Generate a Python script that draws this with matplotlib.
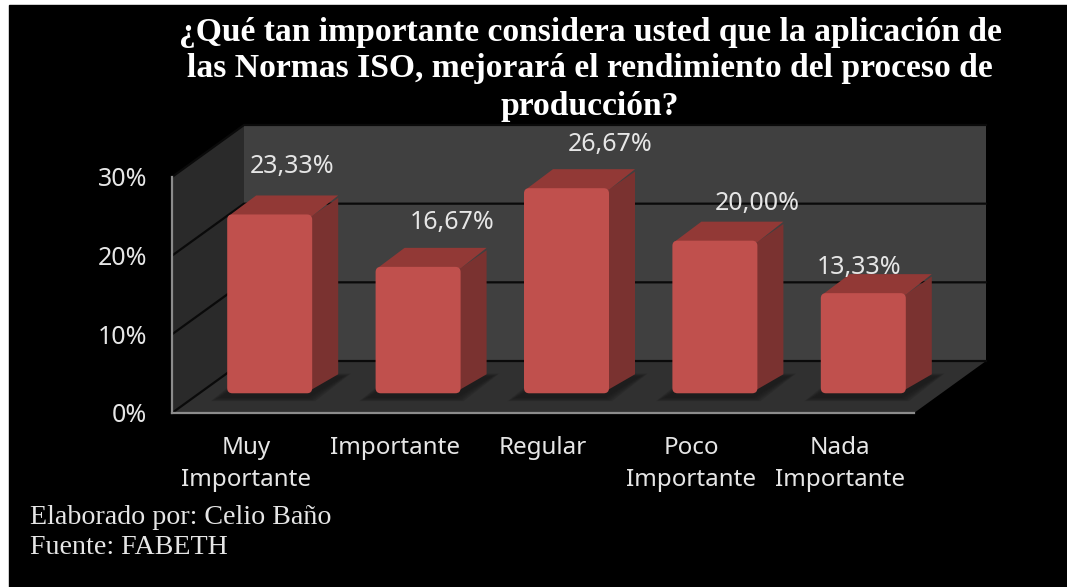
import numpy as np
import matplotlib
matplotlib.use("Agg")
import matplotlib.pyplot as plt
from matplotlib.patches import FancyBboxPatch, Polygon, Rectangle

categorias = ["Muy\nImportante", "Importante", "Regular", "Poco\nImportante", "Nada\nImportante"]
valores = [23.33, 16.67, 26.67, 20.00, 13.33]
ticks_y = [0, 10, 20, 30]
titulo = "¿Qué tan importante considera usted que la aplicación de\nlas Normas ISO, mejorará el rendimiento del proceso de\nproducción?"
pie = ["Elaborado por: Celio Baño", "Fuente: FABETH"]

W, H = 1067, 587
TEXTO = "#e6e6e6"

# profundidad de la caja 3D, en unidades de los ejes
PX_X = 742 / 5
PX_Y = 236 / 30
PROF_X = 72 / PX_X
PROF_Y = 52 / PX_Y

# barra: ancho, profundidad y desplazamiento sobre el piso
ANCHO = 85 / PX_X
BAR_DX = 26 / PX_X
BAR_DY = 19 / PX_Y
DESP_X = 23.5 / PX_X
DESP_Y = 15 / PX_Y
PISO = 0.6

# desplazamiento de cada etiqueta de valor respecto a la barra
etiqueta_dx = [22, 34, 44, 42, -4]
etiqueta_dy = [48, 44, 44, 37, 26]


def fx(px):
    return px / W


def fy(py):
    return 1 - py / H


fig = plt.figure(figsize=(W / 100, H / 100), dpi=100, facecolor="white")
fig.add_artist(Rectangle((fx(9), 0), 1 - fx(9), fy(5), transform=fig.transFigure, color="black", zorder=-5))

ax = fig.add_axes([fx(172), fy(413), 742 / W, 236 / H])
ax.patch.set_visible(False)
ax.set_xlim(-0.5, 4.5)
ax.set_ylim(0, 30)

x0, x1 = -0.5, 4.5
tope = 30

# paredes y piso
ax.add_patch(Polygon([(x0 + PROF_X, PROF_Y), (x1 + PROF_X, PROF_Y), (x1 + PROF_X, tope + PROF_Y), (x0 + PROF_X, tope + PROF_Y)],
                     color="#404040", clip_on=False, zorder=1, lw=0))
ax.add_patch(Polygon([(x0, 0), (x0 + PROF_X, PROF_Y), (x0 + PROF_X, tope + PROF_Y), (x0, tope)],
                     color="#2a2a2a", clip_on=False, zorder=1, lw=0))
ax.add_patch(Polygon([(x0, 0), (x1, 0), (x1 + PROF_X, PROF_Y), (x0 + PROF_X, PROF_Y)],
                     color="#303030", clip_on=False, zorder=1, lw=0))

# lineas de division
for t in ticks_y:
    ax.plot([x0, x0 + PROF_X, x1 + PROF_X], [t, t + PROF_Y, t + PROF_Y],
            color="#0a0a0a", lw=1.6, clip_on=False, zorder=2, solid_joinstyle="miter")

# barras
for i, v in enumerate(valores):
    izq = i + DESP_X - ANCHO / 2
    der = izq + ANCHO
    base = DESP_Y + PISO

    # sombra sobre el piso, con el borde difuminado
    for paso in np.linspace(0, 1, 5):
        m = paso * 0.05
        ax.add_patch(Polygon([(izq - 0.11 + m, base - 1.0 + paso * 0.4), (der + 0.02 - m, base - 1.0 + paso * 0.4),
                              (der + 0.26 - m, base + 2.5 - paso * 0.4), (izq + 0.12 + m, base + 2.5 - paso * 0.4)],
                             color="#1a1a1a", alpha=0.25, clip_on=False, zorder=3, lw=0))

    arriba = DESP_Y + v
    ax.add_patch(Polygon([(der - 0.01, base + 0.4), (der + BAR_DX, base + BAR_DY), (der + BAR_DX, arriba + BAR_DY - 0.3), (der - 0.01, arriba - 0.3)],
                         color="#7a3230", clip_on=False, zorder=4, lw=0, joinstyle="round"))
    ax.add_patch(Polygon([(izq + 0.01, arriba - 0.2), (der, arriba - 0.2), (der + BAR_DX, arriba + BAR_DY), (izq + BAR_DX + 0.02, arriba + BAR_DY)],
                         color="#923936", clip_on=False, zorder=4, lw=0, joinstyle="round"))
    ax.add_patch(FancyBboxPatch((izq, base), ANCHO, v - PISO, boxstyle="round,pad=0,rounding_size=0.035",
                                mutation_aspect=PX_X / PX_Y, facecolor="#c0504d", edgecolor="none",
                                clip_on=False, zorder=5))

    ax.text(i + DESP_X + etiqueta_dx[i] / PX_X, arriba + etiqueta_dy[i] / PX_Y,
            f"{v:.2f}%".replace(".", ","), color=TEXTO, fontsize=18, family="Noto Sans",
            ha="center", va="center", clip_on=False, zorder=6)

# ejes
for lado in ["top", "right"]:
    ax.spines[lado].set_visible(False)
for lado in ["left", "bottom"]:
    ax.spines[lado].set_color("#8c8c8c")
    ax.spines[lado].set_linewidth(1.6)
    ax.spines[lado].set_zorder(7)

ax.set_xticks(range(len(categorias)))
ax.set_xticklabels(categorias, family="Noto Sans", fontsize=17.4, color=TEXTO, linespacing=1.47)
ax.set_yticks(ticks_y)
ax.set_yticklabels([f"{t}%" for t in ticks_y], family="Noto Sans", fontsize=18, color=TEXTO, va="center_baseline")
ax.tick_params(axis="x", length=0, pad=16.5)
ax.tick_params(axis="y", length=0, pad=18)

fig.text(fx(590), fy(69), titulo, color="white", family="Liberation Serif", weight="bold",
         fontsize=24.2, ha="center", va="center", linespacing=1.25)

fig.text(fx(30), fy(518), pie[0], color=TEXTO, family="Liberation Serif", fontsize=20.2, ha="left", va="center")
fig.text(fx(30), fy(548), pie[1], color=TEXTO, family="Liberation Serif", fontsize=20.2, ha="left", va="center")

fig.savefig("out.png", dpi=100, facecolor=fig.get_facecolor())
